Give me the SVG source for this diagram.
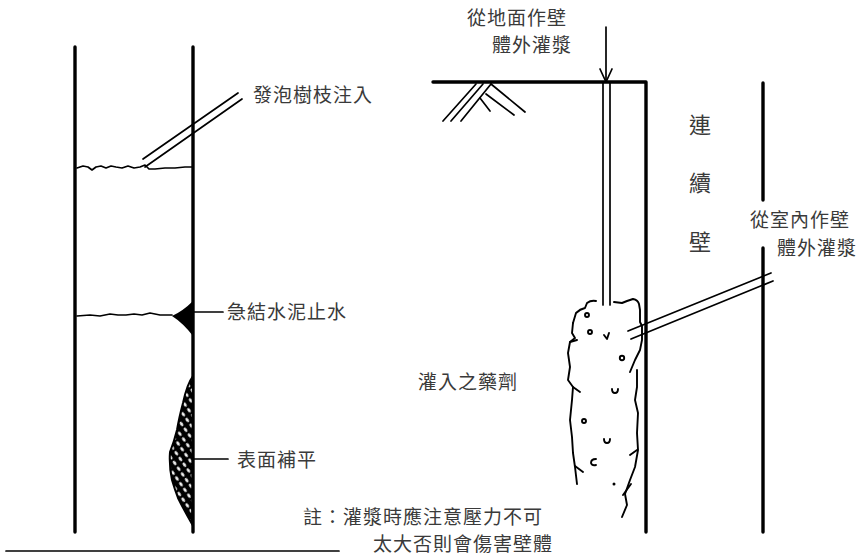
<svg xmlns="http://www.w3.org/2000/svg" width="859" height="559" viewBox="0 0 859 559">
  <style>
    .wall { stroke: #000; stroke-width: 3.4; fill: none; stroke-linecap: round; stroke-linejoin: round; }
    .thin { stroke: #000; stroke-width: 1.7; fill: none; stroke-linecap: round; stroke-linejoin: round; }
    .crack { stroke: #000; stroke-width: 1.9; fill: none; stroke-linecap: round; stroke-linejoin: round; }
    .lbl { font-family: "Liberation Sans", "Noto Sans CJK TC", sans-serif; font-size: 19px; fill: #3a3a3a; letter-spacing: 1px; }
    .vert { font-family: "Liberation Sans", "Noto Sans CJK TC", sans-serif; font-size: 22px; fill: #3a3a3a; text-anchor: middle; }
  </style>
  <defs>
    <pattern id="mesh" width="7" height="7" patternUnits="userSpaceOnUse" patternTransform="rotate(-35)">
      <rect width="7" height="7" fill="#000"/>
      <ellipse cx="3.5" cy="3.5" rx="1.3" ry="2.4" fill="#fff"/>
    </pattern>
  </defs>
  <rect width="859" height="559" fill="#fff"/>

  <!-- left section: wall pair and repairs -->
  <g id="left-wall">
    <line class="wall" x1="75" y1="47" x2="75" y2="532"/>
    <line class="wall" x1="193" y1="47" x2="193" y2="532"/>
    <line class="thin" x1="6" y1="551" x2="339" y2="551" stroke-width="2"/>
  </g>

  <g id="foam-injection">
    <polyline class="thin" points="77,168 83,166 88,167 92,170 96,167 101,166 106,168 111,166 116,167 122,168 128,166 134,168 140,167 145,165 149,169 155,169 165,168 175,168 185,167 193,167"/>
    <line class="thin" x1="143" y1="159" x2="238" y2="93"/>
    <line class="thin" x1="145" y1="167" x2="242" y2="99"/>
    <text class="lbl" x="253" y="102">發泡樹枝注入</text>
  </g>

  <g id="cement-stop">
    <polyline class="thin" points="77,316 90,315 100,316 110,314 118,315 126,315 134,314 142,315 150,313 160,315 172,315"/>
    <path d="M172,316 Q183,311 193,301 L193,336 Q183,323 172,316 Z" fill="#000"/>
    <line class="thin" x1="193" y1="312" x2="223" y2="312"/>
    <text class="lbl" x="227" y="319">急結水泥止水</text>
  </g>

  <g id="surface-patch">
    <path d="M193,376 Q187,384 183,403 Q179,418 177,430 Q174,442 170,452 Q169,466 172,480 Q175,490 178,498 Q184,510 192,524 Z" fill="url(#mesh)" stroke="#000" stroke-width="2"/>
    <line class="thin" x1="193" y1="459" x2="228" y2="459"/>
    <text class="lbl" x="237" y="467">表面補平</text>
  </g>

  <g id="note">
    <text class="lbl" x="303" y="524">註：灌漿時應注意壓力不可</text>
    <text class="lbl" x="373" y="551">太大否則會傷害壁體</text>
  </g>

  <!-- right section: diaphragm wall -->
  <g id="diaphragm-wall">
    <path class="wall" d="M433,82 L646,82 L646,532"/>
    <line class="wall" x1="763" y1="83" x2="763" y2="200"/>
    <line class="wall" x1="763" y1="248" x2="763" y2="532"/>
    <text class="vert" x="700" y="133">連</text>
    <text class="vert" x="700" y="191">續</text>
    <text class="vert" x="700" y="250">壁</text>
  </g>

  <g id="soil-hatch">
    <line class="thin" x1="476" y1="84" x2="443" y2="121"/>
    <line class="thin" x1="483" y1="84" x2="451" y2="121"/>
    <line class="thin" x1="491" y1="84" x2="461" y2="121"/>
    <line class="thin" x1="491" y1="84" x2="525" y2="112"/>
    <line class="thin" x1="486" y1="94" x2="514" y2="115"/>
    <line class="thin" x1="480" y1="98" x2="490" y2="111"/>
  </g>

  <g id="grout-from-ground">
    <line class="thin" x1="603" y1="82" x2="603" y2="305"/>
    <line class="thin" x1="610" y1="82" x2="610" y2="305"/>
    <line class="thin" x1="606" y1="27" x2="606" y2="82"/>
    <polyline class="thin" points="600,69 606,82 612,69"/>
    <text class="lbl" x="467" y="25">從地面作壁</text>
    <text class="lbl" x="492" y="52">體外灌漿</text>
  </g>

  <g id="grout-from-inside">
    <line class="thin" x1="628" y1="331" x2="771" y2="273"/>
    <line class="thin" x1="631" y1="339" x2="773" y2="281"/>
    <text class="lbl" x="750" y="227">從室內作壁</text>
    <text class="lbl" x="777" y="255">體外灌漿</text>
  </g>

  <g id="grout-body">
    <!-- outline of injected mass, drawn as broken strokes -->
    <path class="crack" d="M573,323 L576,313 Q580,309 585,308 L587,303 Q591,300 596,301"/>
    <path class="crack" d="M573,323 L572,333 L575,338 L570,342 L568,353 L570,367 L568,380 L573,387 L572,400 L570,420 L572,437 L573,453 L575,467 L577,484"/>
    <line class="crack" x1="570" y1="342" x2="577" y2="340"/>
    <line class="crack" x1="573" y1="387" x2="580" y2="392"/>
    <line class="crack" x1="575" y1="466" x2="583" y2="472"/>
    <path class="crack" d="M614,302 L622,303 L627,301 L633,299 Q638,300 639,304 L640,310 L640,322 L642,326 L642,340 L640,350 L635,360 L630,372"/>
    <path class="crack" d="M637,370 L637,387 L635,400 L638,413 L637,433 L638,450 L635,467 L630,480 L625,494 L627,505 L622,517"/>
    <line class="crack" x1="637" y1="450" x2="630" y2="455"/>
    <line class="crack" x1="631" y1="484" x2="623" y2="495"/>
    <circle cx="587" cy="315" r="2" class="crack" stroke-width="1.5"/>
    <circle cx="590" cy="332" r="2" class="crack" stroke-width="1.5"/>
    <path class="crack" stroke-width="1.5" d="M604,335 L607,339 L609,333"/>
    <circle cx="622" cy="358" r="2.2" class="crack" stroke-width="1.5"/>
    <path class="crack" stroke-width="1.5" d="M612,389 Q612,393 615,393 Q618,393 618,389"/>
    <circle cx="584" cy="421" r="2" class="crack" stroke-width="1.5"/>
    <path class="crack" stroke-width="1.5" d="M604,439 Q604,443 607,443 Q610,443 610,439"/>
    <path class="crack" stroke-width="1.5" d="M596,459 Q591,459 591,463 Q592,466 596,465"/>
    <circle cx="614" cy="484" r="1.5" fill="#000"/>
    <text class="lbl" x="418" y="389">灌入之藥劑</text>
  </g>
</svg>
